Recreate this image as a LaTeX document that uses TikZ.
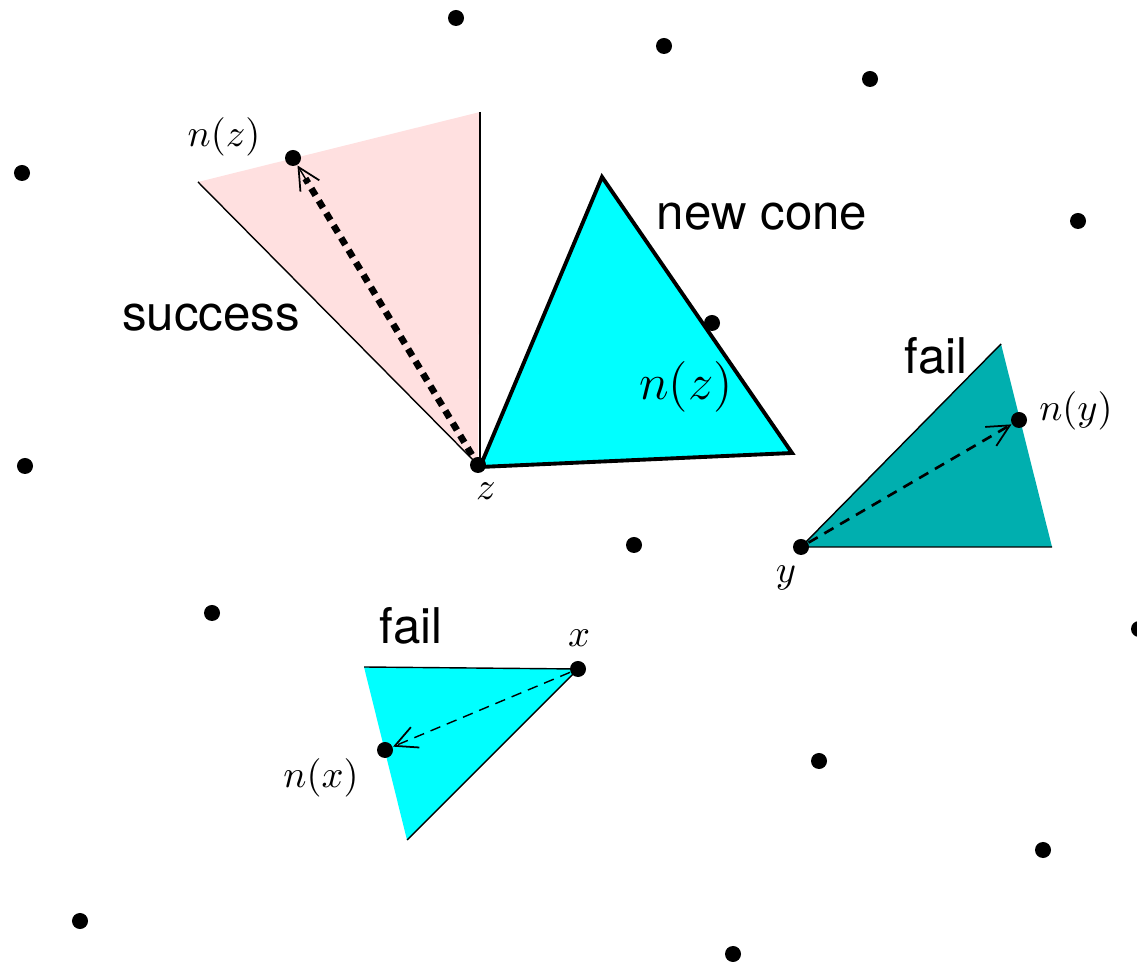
\documentclass[tikz,border=0pt]{standalone}
\usepackage{fontspec}
\newfontfamily\hv{TeX Gyre Heros}
\usetikzlibrary{arrows.meta}
\definecolor{pinkf}{RGB}{255,224,224}
\definecolor{cyanf}{RGB}{0,255,255}
\definecolor{tealf}{RGB}{0,175,175}
\tikzset{
  pt/.style={circle,fill=black,inner sep=0pt,minimum size=0.16cm},
  word/.style={font=\hv\fontsize{14}{16}\selectfont,inner sep=0pt},
  mlab/.style={font=\fontsize{11.3}{13}\selectfont,inner sep=0pt},
  edge/.style={line width=0.4pt},
  tipopen/.style={-{Straight Barb[length=2.2mm,width=2.2mm,line width=0.5pt]}},
}
\begin{document}
\begin{tikzpicture}[x=0.01cm,y=-0.01cm]
\useasboundingbox (0,0) rectangle (1137,962);
% coordinates
\coordinate (zc) at (478,465);
\coordinate (nzc) at (293,158);
\coordinate (yc) at (801,547);
\coordinate (nyc) at (1019,420);
\coordinate (xc) at (578,669);
\coordinate (nxc) at (385,750);
\coordinate (pA) at (480,112);
\coordinate (pB) at (198,182);
\coordinate (cA) at (480,467);
\coordinate (cB) at (602,177);
\coordinate (cC) at (792,453);
\coordinate (tA) at (1001,344);
\coordinate (tB) at (1052,547);
\coordinate (xA) at (364,667);
\coordinate (xB) at (407,840);
% pink cone
\fill[pinkf] (zc) -- (pA) -- (pB) -- cycle;
\draw[edge] (pA) -- (480,462);
\draw[edge] (pB) -- (zc);
% teal cone
\fill[tealf] (yc) -- (tA) -- (tB) -- cycle;
\draw[edge] (tA) -- (yc) -- (tB);
% x cone
\fill[cyanf] (xc) -- (xA) -- (xB) -- cycle;
\draw[edge] (xA) -- (xc) -- (xB);
% dot under new cone
\node[pt] (d6) at (712,323) {};
% new cone
\draw[line width=1.1pt,fill=cyanf,line join=miter] (cA) -- (cB) -- (cC) -- cycle;
% dots
\node[pt] (d1) at (456,18) {};
\node[pt] (d2) at (664,46) {};
\node[pt] (d3) at (870,79) {};
\node[pt] (d4) at (22,173) {};
\node[pt] (d5) at (1078,221) {};
\node[pt] (d7) at (25,466) {};
\node[pt] (d8) at (634,545) {};
\node[pt] (d9) at (212,613) {};
\node[pt] (d10) at (1139,629) {};
\node[pt] (d11) at (819,761) {};
\node[pt] (d12) at (1043,850) {};
\node[pt] (d13) at (80,921) {};
\node[pt] (d14) at (733,954) {};
\node[pt] (z) at (zc) {};
\node[pt] (nz) at (nzc) {};
\node[pt] (y) at (yc) {};
\node[pt] (ny) at (nyc) {};
\node[pt] (x) at (xc) {};
\node[pt] (nx) at (nxc) {};
% arrows
\draw[line width=1.9pt, dash pattern=on 2.3pt off 1.8pt, shorten >=0.24cm, shorten <=0.12cm] (z.center) -- (nz.center);
\draw[tipopen, shorten <=3.2cm] (z) -- (nz);
\draw[line width=0.75pt, dash pattern=on 3pt off 2.2pt, tipopen] (y) -- (ny);
\draw[line width=0.4pt, dash pattern=on 3pt off 2pt, tipopen] (x) -- (nx);
% labels
\node[word] (l1) at (762,217) {new cone};
\node[word] (l2) at (211,318) {success};
\node[word] (l3) at (936,356) {fail};
\node[word] (l4) at (411,626) {fail};
\node[mlab] (l5) at (224,137) {$n(z)$};
\node[font=\fontsize{14}{16}\selectfont,inner sep=0pt] (l6) at (686,387) {$n(z)$};
\node[mlab] (l7) at (1076,411) {$n(y)$};
\node[mlab] (l8) at (321,778) {$n(x)$};
\node[mlab] (l9) at (486,491) {$z$};
\node[mlab] (l10) at (786,578) {$y$};
\node[mlab] (l11) at (579,638) {$x$};
\end{tikzpicture}
\end{document}
